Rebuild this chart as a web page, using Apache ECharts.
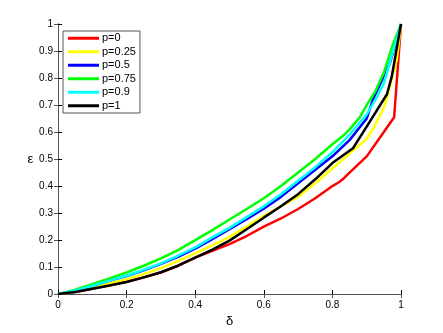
<!DOCTYPE html>
<html>
<head>
<meta charset="utf-8">
<script src="https://cdn.jsdelivr.net/npm/echarts@6/dist/echarts.min.js"></script>
<style>html,body{margin:0;padding:0;background:#fff;}#c{width:443px;height:333px;}</style>
</head>
<body>
<div id="c"></div>
<script>
// Data
var legendNames = ['p=0', 'p=0.25', 'p=0.5', 'p=0.75', 'p=0.9', 'p=1'];
var xTicks = [0, 0.2, 0.4, 0.6, 0.8, 1];
var yTicks = [0, 0.1, 0.2, 0.3, 0.4, 0.5, 0.6, 0.7, 0.8, 0.9, 1];

var deltaP0   = [0, 0.05, 0.1, 0.15, 0.2, 0.25, 0.3, 0.35, 0.4, 0.45, 0.5, 0.55, 0.6, 0.65, 0.7, 0.75, 0.8, 0.82, 0.83, 0.85, 0.9, 0.95, 0.98, 1];
var epsP0     = [0, 0.008, 0.02, 0.033, 0.046, 0.062, 0.08, 0.105, 0.135, 0.16, 0.185, 0.215, 0.25, 0.28, 0.315, 0.355, 0.4, 0.415, 0.425, 0.45, 0.51, 0.6, 0.655, 1];

var deltaP025 = [0, 0.05, 0.1, 0.15, 0.2, 0.25, 0.3, 0.35, 0.4, 0.45, 0.5, 0.55, 0.6, 0.65, 0.7, 0.75, 0.8, 0.85, 0.9, 0.92, 0.95, 0.96, 0.988, 1];
var epsP025   = [0, 0.01, 0.024, 0.04, 0.055, 0.074, 0.096, 0.122, 0.151, 0.18, 0.212, 0.25, 0.29, 0.325, 0.36, 0.41, 0.465, 0.52, 0.575, 0.615, 0.69, 0.73, 0.87, 1];

var deltaP05  = [0, 0.05, 0.1, 0.15, 0.2, 0.25, 0.3, 0.35, 0.4, 0.45, 0.5, 0.55, 0.6, 0.65, 0.7, 0.75, 0.8, 0.85, 0.9, 0.918, 0.94, 0.968, 1];
var epsP05    = [0, 0.013, 0.031, 0.05, 0.067, 0.088, 0.112, 0.138, 0.168, 0.203, 0.24, 0.277, 0.316, 0.36, 0.41, 0.46, 0.51, 0.57, 0.65, 0.72, 0.78, 0.857, 1];

var deltaP075 = [0, 0.05, 0.1, 0.15, 0.2, 0.25, 0.3, 0.35, 0.4, 0.45, 0.5, 0.55, 0.6, 0.65, 0.7, 0.75, 0.8, 0.83, 0.85, 0.88, 0.9, 0.925, 0.95, 0.975, 1];
var epsP075   = [0, 0.016, 0.037, 0.058, 0.08, 0.105, 0.132, 0.163, 0.2, 0.237, 0.276, 0.315, 0.355, 0.4, 0.45, 0.5, 0.555, 0.585, 0.61, 0.655, 0.7, 0.75, 0.82, 0.92, 1];

var deltaP09  = [0, 0.05, 0.1, 0.15, 0.2, 0.25, 0.3, 0.35, 0.4, 0.45, 0.5, 0.55, 0.6, 0.65, 0.7, 0.75, 0.8, 0.85, 0.9, 0.93, 0.95, 0.977, 1];
var epsP09    = [0, 0.013, 0.031, 0.05, 0.068, 0.09, 0.114, 0.142, 0.173, 0.21, 0.245, 0.285, 0.325, 0.37, 0.42, 0.47, 0.525, 0.59, 0.665, 0.73, 0.78, 0.9, 1];

var deltaP1   = [0, 0.05, 0.1, 0.15, 0.2, 0.25, 0.3, 0.35, 0.4, 0.45, 0.5, 0.55, 0.6, 0.65, 0.7, 0.75, 0.8, 0.86, 0.9, 0.959, 0.973, 1];
var epsP1     = [0, 0.008, 0.02, 0.032, 0.045, 0.062, 0.081, 0.105, 0.135, 0.165, 0.198, 0.24, 0.283, 0.325, 0.37, 0.425, 0.485, 0.54, 0.62, 0.74, 0.805, 1];

var seriesX = [deltaP0, deltaP025, deltaP05, deltaP075, deltaP09, deltaP1];
var seriesY = [epsP0, epsP025, epsP05, epsP075, epsP09, epsP1];
var colors = ['#ff0000', '#ffff00', '#0000ff', '#00ff00', '#00ffff', '#000000'];

function pairs(xs, ys) { return xs.map(function (x, i) { return [x, ys[i]]; }); }

var font = 'Liberation Sans, Arial, sans-serif';
var chart = echarts.init(document.getElementById('c'), null, { renderer: 'canvas' });

function fmt(v) { return String(Math.round(v * 10) / 10); }

var baseAxis = {
  type: 'value', min: 0, max: 1,
  axisLine: { show: true, lineStyle: { color: '#000', width: 1 } },
  axisTick: { show: true, inside: true, length: 4, lineStyle: { color: '#000' } },
  splitLine: { show: false }
};

var option = {
  animation: false,
  backgroundColor: '#ffffff',
  grid: { left: 58, right: 42, top: 24, bottom: 37, containLabel: false },
  legend: {
    data: legendNames,
    orient: 'vertical',
    left: 63, top: 31,
    itemWidth: 31, itemHeight: 3, itemGap: 1,
    icon: 'rect',
    backgroundColor: '#fff',
    borderColor: '#555', borderWidth: 1,
    padding: [1, 4, 1, 5],
    textStyle: { fontFamily: font, fontSize: 11, color: '#000', lineHeight: 12.5, padding: [0, 0, 0, -2] }
  },
  xAxis: [
    Object.assign({}, baseAxis, {
      position: 'bottom', interval: 0.2,
      axisLabel: { show: true, color: '#000', fontFamily: font, fontSize: 10, margin: 6, formatter: fmt },
      name: 'δ', nameLocation: 'middle', nameGap: 15,
      nameTextStyle: { fontFamily: font, fontSize: 13, color: '#000' }
    }),
    Object.assign({}, baseAxis, {
      position: 'top', interval: 0.2,
      axisLine: { show: true, lineStyle: { color: '#555', width: 1 } },
      axisTick: { show: true, inside: true, length: 4, lineStyle: { color: '#555' } },
      axisLabel: { show: false }
    })
  ],
  yAxis: [
    Object.assign({}, baseAxis, {
      position: 'left', interval: 0.1,
      axisLabel: { show: true, color: '#000', fontFamily: font, fontSize: 10, margin: 5, formatter: fmt },
      name: 'ε', nameLocation: 'middle', nameGap: 20, nameRotate: 0,
      nameTextStyle: { fontFamily: font, fontSize: 13, color: '#000' }
    }),
    Object.assign({}, baseAxis, {
      position: 'right', interval: 0.1,
      axisLine: { show: true, lineStyle: { color: '#555', width: 1 } },
      axisTick: { show: true, inside: true, length: 4, lineStyle: { color: '#555' } },
      axisLabel: { show: false }
    })
  ],
  series: legendNames.map(function (n, i) {
    return {
      name: n, type: 'line',
      xAxisIndex: 0, yAxisIndex: 0,
      data: pairs(seriesX[i], seriesY[i]),
      showSymbol: false, symbol: 'none',
      lineStyle: { color: colors[i], width: 2.5 },
      itemStyle: { color: colors[i] },
      z: 2 + i
    };
  })
};
chart.setOption(option);
</script>
</body>
</html>
